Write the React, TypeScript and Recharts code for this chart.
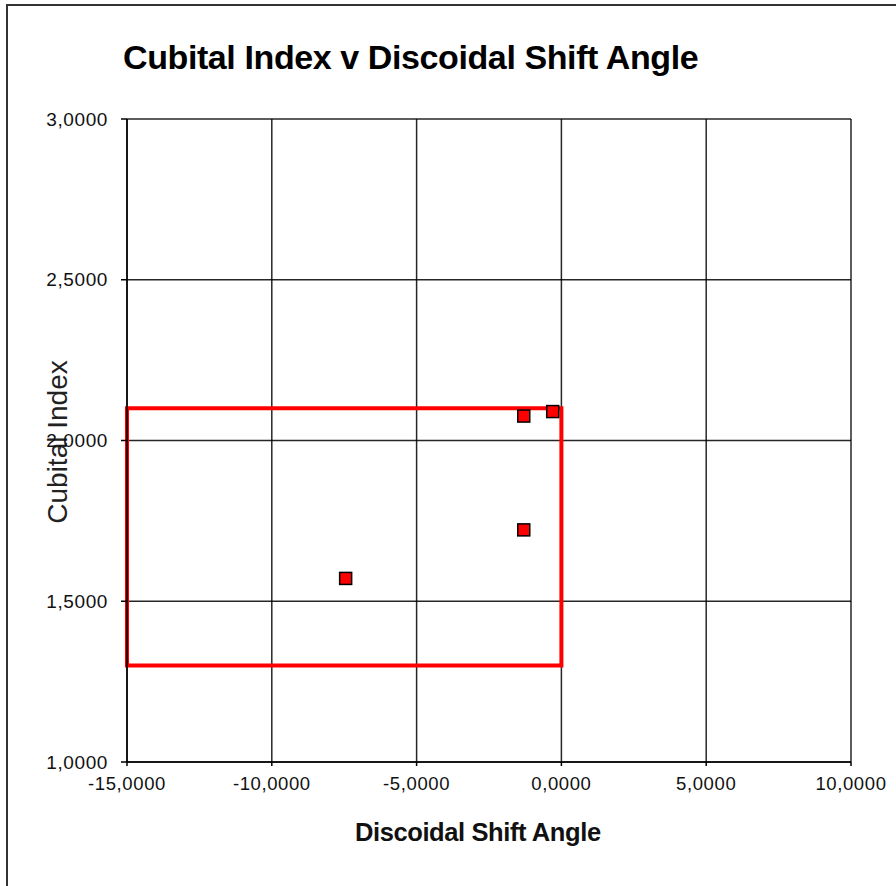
import { ScatterChart, Scatter, XAxis, YAxis, CartesianGrid, ReferenceArea } from 'recharts';

const shiftAngle = [-7.45, -1.3, -0.3, -1.3];
const cubitalIndex = [1.571, 2.076, 2.09, 1.722];
const xTicks = [-15, -10, -5, 0, 5, 10];
const yTicks = [1, 1.5, 2, 2.5, 3];
const boxX = [-15, 0];
const boxY = [1.3, 2.1];

const points = shiftAngle.map((x, i) => ({ x, y: cubitalIndex[i] }));

const fmt = (v: number) => v.toFixed(4).replace('.', ',');

const FONT = '"Liberation Sans", Arial, sans-serif';

const Square = (props: any) => {
  const { cx, cy } = props;
  const s = 12;
  return <rect x={cx - s / 2} y={cy - s / 2} width={s} height={s} fill="#ff0000" stroke="#000" strokeWidth={1.5} />;
};

const App = () => {
  return (
    <div style={{ position: 'absolute', left: 0, top: 0, width: 896, height: 886, background: '#fff', fontFamily: FONT }}>
      <div style={{ position: 'absolute', left: 6, top: 4, width: 900, height: 900, borderLeft: '2px solid #333', borderTop: '2px solid #333' }} />
      <div style={{ position: 'absolute', left: 123, top: 38, fontSize: 34, fontWeight: 'bold', color: '#000', whiteSpace: 'nowrap', letterSpacing: -0.4 }}>
        Cubital Index v Discoidal Shift Angle
      </div>
      <div style={{ position: 'absolute', left: 355, top: 818, fontSize: 25.5, fontWeight: 'bold', color: '#111', whiteSpace: 'nowrap', letterSpacing: -0.4 }}>
        Discoidal Shift Angle
      </div>
      <div
        style={{
          position: 'absolute',
          left: 58,
          top: 442,
          fontSize: 28,
          color: '#222',
          whiteSpace: 'nowrap',
          transform: 'translate(-50%, -50%) rotate(-90deg)',
        }}
      >
        Cubital Index
      </div>
      <div style={{ position: 'absolute', left: 0, top: 0 }}>
        <ScatterChart width={896} height={886} margin={{ top: 119, right: 45, bottom: 94, left: 47 }}>
          <CartesianGrid stroke="#000" strokeWidth={1.5} strokeOpacity={0.85} />
          <XAxis
            type="number"
            dataKey="x"
            domain={[-15, 10]}
            ticks={xTicks}
            tickFormatter={fmt}
            stroke="#000"
            strokeWidth={1.5}
            tickSize={4}
            tickMargin={11}
            height={30}
            interval={0}
            tick={{ fill: '#111', fontSize: 18.5, fontFamily: FONT, letterSpacing: 0.6 }}
          />
          <YAxis
            type="number"
            dataKey="y"
            domain={[1, 3]}
            ticks={yTicks}
            tickFormatter={fmt}
            stroke="#000"
            strokeWidth={1.5}
            tickSize={6}
            tickMargin={13}
            width={80}
            interval={0}
            tick={{ fill: '#111', fontSize: 19, fontFamily: FONT, letterSpacing: 0.6 }}
          />
          <ReferenceArea
            x1={boxX[0]}
            x2={boxX[1]}
            y1={boxY[0]}
            y2={boxY[1]}
            fill="none"
            fillOpacity={0}
            stroke="#ff0000"
            strokeWidth={4}
            ifOverflow="visible"
          />
          <Scatter data={points} shape={<Square />} isAnimationActive={false} />
        </ScatterChart>
      </div>
    </div>
  );
};

export default App;
